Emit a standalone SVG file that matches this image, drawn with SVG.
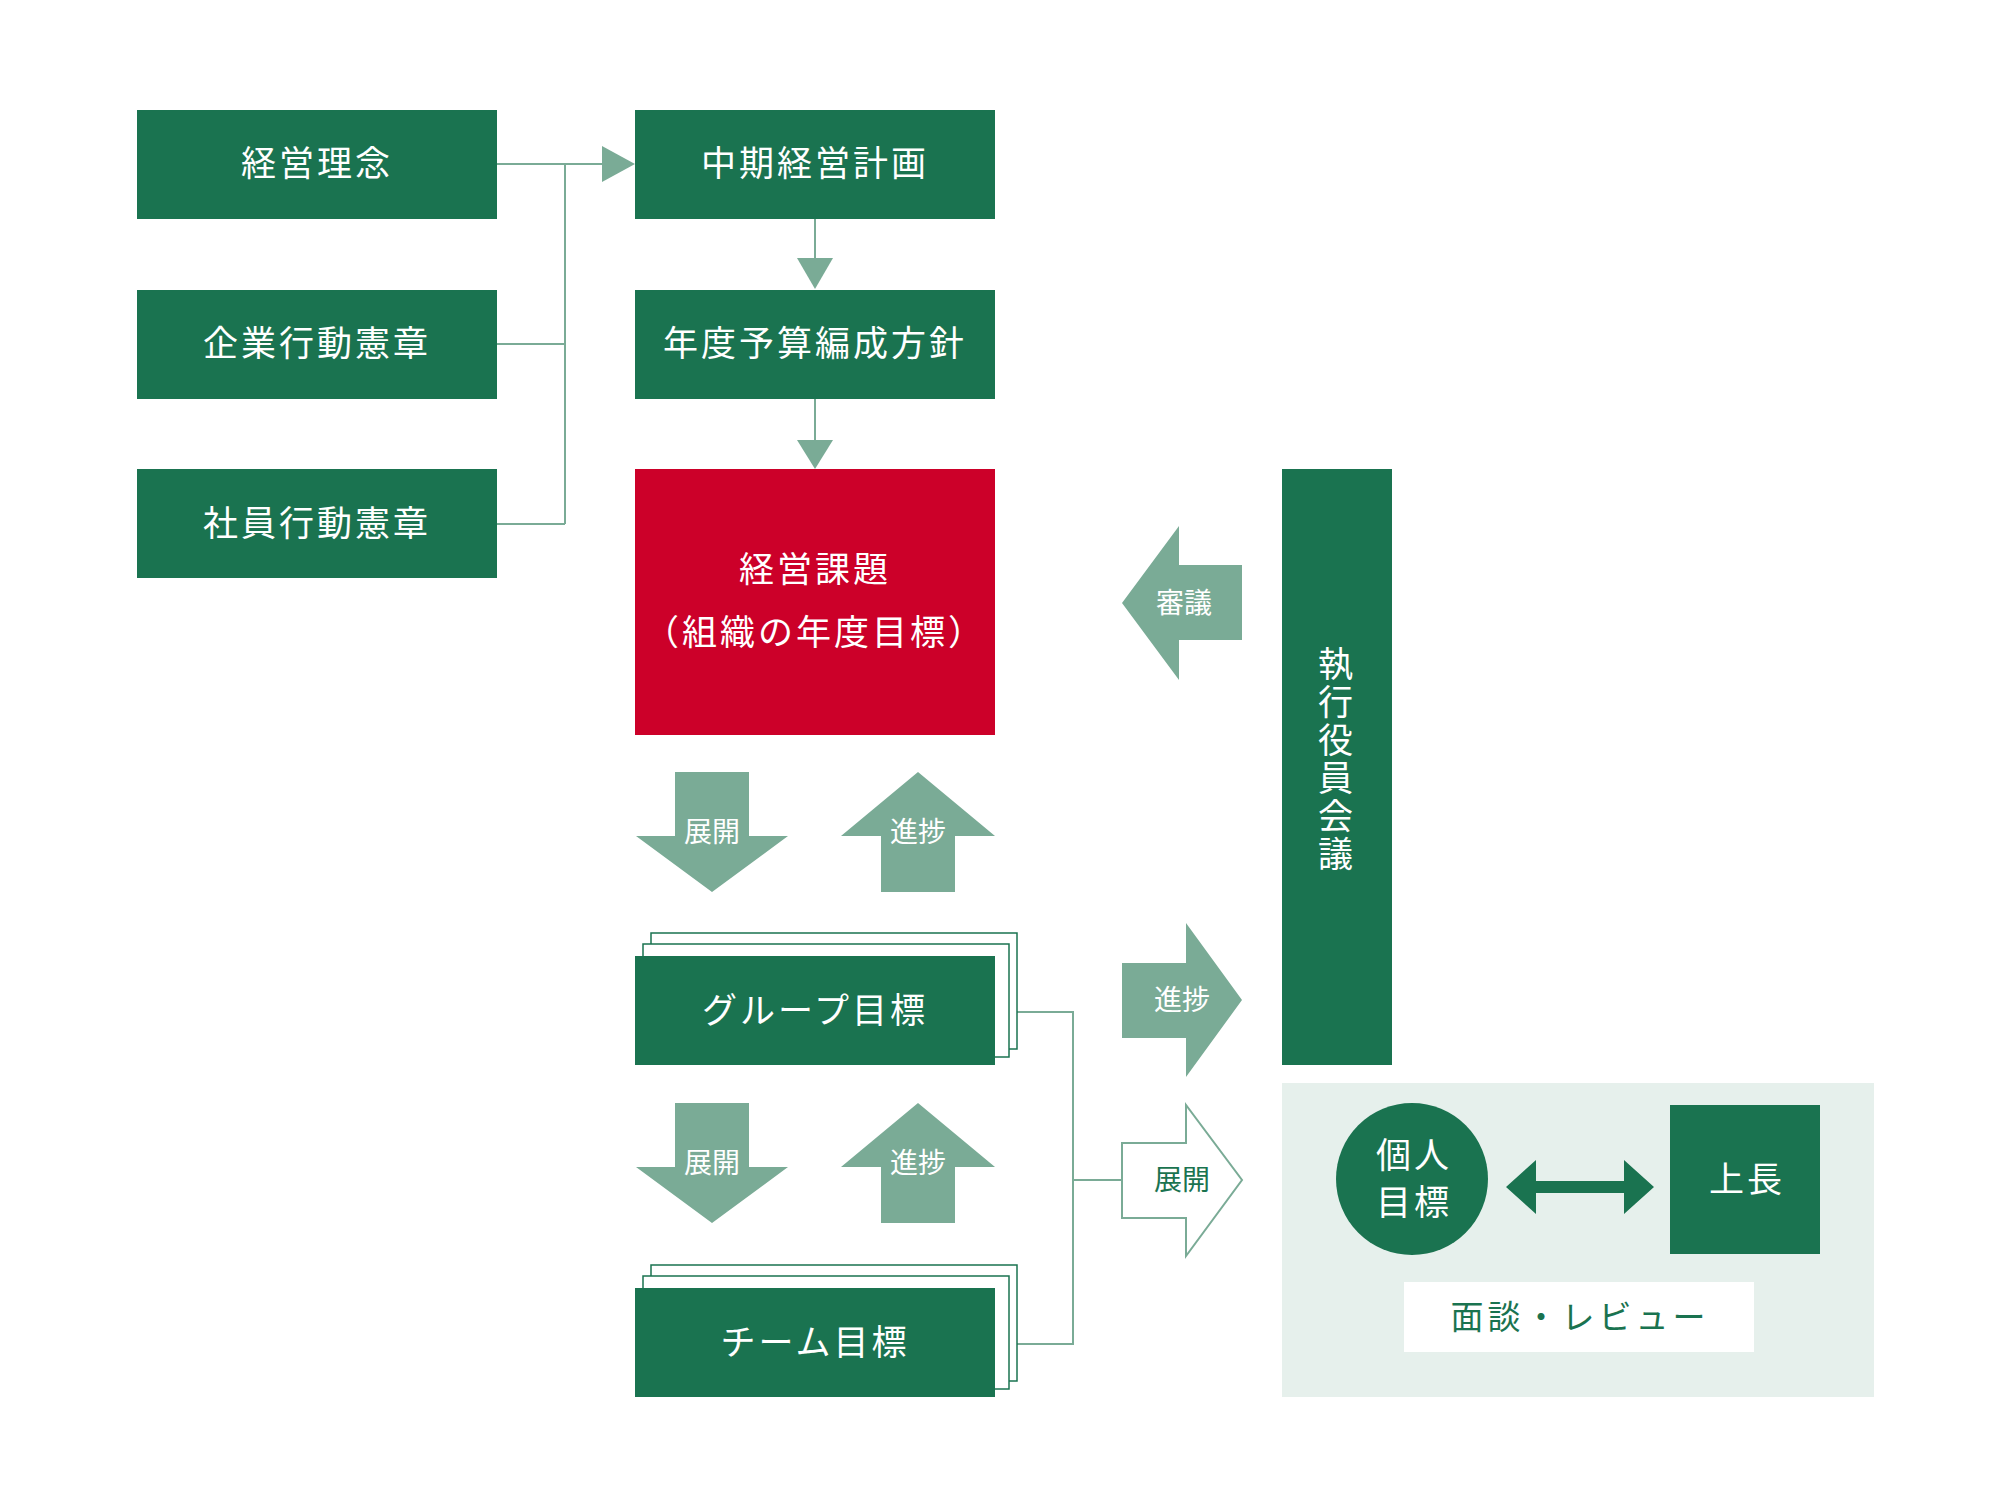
<svg xmlns="http://www.w3.org/2000/svg" width="2000" height="1500" viewBox="0 0 2000 1500">
<style>
text{font-family:"Liberation Serif","Noto Sans CJK JP",serif;text-anchor:middle;dominant-baseline:central}
.b{fill:#1a7350}.w{fill:#fff;font-size:35px;letter-spacing:3px}
.l{fill:#7aab96}.s{fill:#fff;font-size:28px}
.c{fill:none;stroke:#7aab96;stroke-width:2}
.o{fill:#fff;stroke:#1a7350;stroke-width:1.5}
</style>
<rect width="2000" height="1500" fill="#fff"/>
<g id="connectors">
<path class="c" d="M497 164H565M497 344H565M497 524H565M565 164V524M565 164H605"/>
<polygon class="l" points="602,146 635,164 602,182"/>
<path class="c" d="M815 219V260M815 399V440"/>
<polygon class="l" points="797,258 833,258 815,289"/>
<polygon class="l" points="797,440 833,440 815,469"/>
<path class="c" d="M1017 1012H1073V1344H1017M1073 1180H1122"/>
</g>
<g id="keiei-rinen"><rect class="b" x="137" y="110" width="360" height="109"/><text class="w" x="317" y="164">経営理念</text></g>
<g id="kigyo"><rect class="b" x="137" y="290" width="360" height="109"/><text class="w" x="317" y="344">企業行動憲章</text></g>
<g id="shain"><rect class="b" x="137" y="469" width="360" height="109"/><text class="w" x="317" y="524">社員行動憲章</text></g>
<g id="chuki"><rect class="b" x="635" y="110" width="360" height="109"/><text class="w" x="815" y="164">中期経営計画</text></g>
<g id="nendo"><rect class="b" x="635" y="290" width="360" height="109"/><text class="w" x="815" y="344">年度予算編成方針</text></g>
<g id="kadai"><rect fill="#cc0029" x="635" y="469" width="360" height="266"/><text class="w" x="815" y="570">経営課題</text><text class="w" x="815" y="633">（組織の年度目標）</text></g>
<g id="arrows1">
<polygon class="l" points="675,772 749,772 749,836 788,836 712,892 636,836 675,836"/><text class="s" x="712" y="832">展開</text>
<polygon class="l" points="918,772 995,836 955,836 955,892 881,892 881,836 841,836"/><text class="s" x="918" y="832">進捗</text>
</g>
<g id="group">
<rect class="o" x="651" y="933" width="366" height="116"/>
<rect class="o" x="643" y="944" width="366" height="113"/>
<rect class="b" x="635" y="956" width="360" height="109"/><text class="w" x="815" y="1011">グループ目標</text></g>
<g id="arrows2">
<polygon class="l" points="675,1103 749,1103 749,1167 788,1167 712,1223 636,1167 675,1167"/><text class="s" x="712" y="1163">展開</text>
<polygon class="l" points="918,1103 995,1167 955,1167 955,1223 881,1223 881,1167 841,1167"/><text class="s" x="918" y="1163">進捗</text>
</g>
<g id="team">
<rect class="o" x="651" y="1265" width="366" height="116"/>
<rect class="o" x="643" y="1276" width="366" height="113"/>
<rect class="b" x="635" y="1288" width="360" height="109"/><text class="w" x="815" y="1343">チーム目標</text></g>
<g id="shingi"><polygon class="l" points="1122,603 1179,526 1179,565 1242,565 1242,640 1179,640 1179,680"/><text class="s" x="1184" y="603">審議</text></g>
<g id="shinchoku-r"><polygon class="l" points="1122,963 1186,963 1186,923 1242,1000 1186,1077 1186,1038 1122,1038"/><text class="s" x="1182" y="1000">進捗</text></g>
<g id="tenkai-r"><polygon fill="#fff" stroke="#7aab96" stroke-width="2" points="1122,1143 1186,1143 1186,1105 1242,1180 1186,1256 1186,1218 1122,1218"/><text x="1182" y="1180" font-size="28" fill="#1a7350">展開</text></g>
<g id="shikko"><rect class="b" x="1282" y="469" width="110" height="596"/>
<text class="w" x="1337" y="665">執</text><text class="w" x="1337" y="703">行</text><text class="w" x="1337" y="741">役</text><text class="w" x="1337" y="779">員</text><text class="w" x="1337" y="817">会</text><text class="w" x="1337" y="855">議</text></g>
<g id="kojin-area"><rect fill="#e6f0ec" x="1282" y="1083" width="592" height="314"/>
<circle class="b" cx="1412" cy="1179" r="76"/><text class="w" x="1414" y="1156">個人</text><text class="w" x="1414" y="1203">目標</text>
<rect class="b" x="1670" y="1105" width="150" height="149"/><text class="w" x="1747" y="1180">上長</text>
<polygon class="b" points="1506,1187 1536,1160 1536,1181 1624,1181 1624,1160 1654,1187 1624,1214 1624,1193 1536,1193 1536,1214"/>
<rect fill="#fff" x="1404" y="1282" width="350" height="70"/><text x="1580" y="1318" font-size="33" fill="#1a7350" letter-spacing="4">面談・レビュー</text></g>
</svg>
